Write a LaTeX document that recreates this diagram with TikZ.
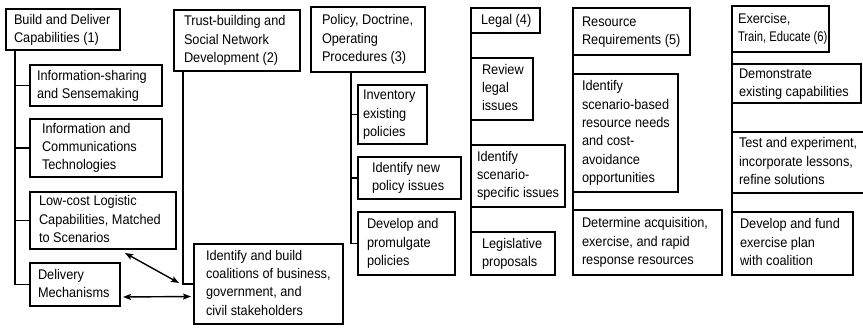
\documentclass[tikz,border=0pt]{standalone}
\usepackage{graphicx}
\usepackage{fontspec}
\setmainfont{Liberation Sans}
\usetikzlibrary{arrows.meta,calc}
\tikzset{
  box/.style={draw=black, line width=1.6pt, fill=white, inner ysep=0pt, outer sep=0pt,
    font=\fontsize{14}{18.3}\selectfont},
  conn/.style={draw=black, line width=1.5pt},
  dblarrow/.style={draw=black, line width=1.4pt, {Stealth[length=8pt,width=6pt,inset=1.5pt]}-{Stealth[length=8pt,width=6pt,inset=1.5pt]}}
}
\newcommand\bx[7]{%
  \pgfmathsetmacro\bxw{#4-#2}%
  \pgfmathsetmacro\bxh{#5-#3}%
  \pgfmathsetmacro\bxt{#4-#2-2*#6}%
  \pgfmathsetmacro\bxcx{(#2+#4)/2}%
  \pgfmathsetmacro\bxcy{(#3+#5)/2}%
  \node[box, minimum width=\bxw pt, minimum height=\bxh pt, inner xsep=#6pt] (#1) at (\bxcx,\bxcy)
    {\makebox[\bxt pt][l]{\scalebox{0.91}[1]{\begin{tabular}{@{}l@{}}#7\end{tabular}}}};%
}
\newcommand\narrowline[1]{\scalebox{0.88}[1]{#1}}
\begin{document}
\begin{tikzpicture}[x=1pt,y=-1pt]
\clip (0,0) rectangle (863,327);
\useasboundingbox (0,0) rectangle (863,327);
% column 1
\bx{b1}{6}{9}{120}{50}{8}{Build and Deliver\\Capabilities (1)}
\bx{c11}{30}{65}{162}{106}{7}{Information-sharing\\and Sensemaking}
\bx{c12}{30}{119}{162}{177}{12}{Information and\\Communications\\Technologies}
\bx{c13}{30}{192}{176}{249}{9}{Low-cost Logistic\\Capabilities, Matched\\to Scenarios}
\bx{c14}{30}{263}{120}{306}{8}{Delivery\\Mechanisms}
% column 2
\bx{b2}{174}{10}{300}{71}{10}{Trust-building and\\Social Network\\Development (2)}
\bx{co}{194}{244}{343}{324}{12}{Identify and build\\coalitions of business,\\government, and\\civil stakeholders}
% column 3
\bx{b3}{311}{7}{425}{72}{11}{Policy, Doctrine,\\Operating\\Procedures (3)}
\bx{c31}{358}{85}{427}{144}{5}{Inventory\\existing\\policies}
\bx{c32}{358}{157}{461}{199}{14}{Identify new\\policy issues}
\bx{c33}{358}{212}{455}{275}{9}{Develop and\\promulgate\\policies}
% column 4
\bx{l0}{471}{8}{540}{33}{10}{Legal (4)}
\bx{l1}{471}{58}{533}{120}{11}{Review\\legal\\issues}
\bx{l2}{471}{145}{565}{207}{6}{Identify\\scenario-\\specific issues}
\bx{l3}{471}{232}{555}{275}{11}{Legislative\\proposals}
% column 5
\bx{r0}{573}{8}{690}{55}{9}{Resource\\Requirements (5)}
\bx{r1}{573}{74}{678}{192}{9}{Identify\\scenario-based\\resource needs\\and cost-\\avoidance\\opportunities}
\bx{r2}{573}{210}{722}{275}{9}{Determine acquisition,\\exercise, and rapid\\response resources}
% column 6
\bx{e0}{732}{6}{829}{52}{6}{Exercise,\\\narrowline{Train, Educate (6)}}
\bx{e1}{732}{64}{861}{103}{7}{Demonstrate\\existing capabilities}
\bx{e2}{732}{132}{868}{193}{7}{Test and experiment,\\incorporate lessons,\\refine solutions}
\bx{e3}{732}{212}{853}{275}{8}{Develop and fund\\exercise plan\\with coalition}
% connectors
\draw[conn] ([xshift=9pt]b1.south west) |- (c11.west);
\draw[conn] ([xshift=9pt]b1.south west) |- (c12.west);
\draw[conn] ([xshift=9pt]b1.south west) |- (c13.west);
\draw[conn] ([xshift=9pt]b1.south west) |- (c14.west);
\draw[conn] ([xshift=9pt]b2.south west) |- (co.west);
\draw[conn] ([xshift=40pt]b3.south west) |- (c31.west);
\draw[conn] ([xshift=40pt]b3.south west) |- (c32.west);
\draw[conn] ([xshift=40pt]b3.south west) |- (c33.west);
\draw[conn] (l0.south west) -- (l1.north west);
\draw[conn] (l1.south west) -- (l2.north west);
\draw[conn] (l2.south west) -- (l3.north west);
\draw[conn] (r0.south west) -- (r1.north west);
\draw[conn] (r1.south west) -- (r2.north west);
\draw[conn] (e0.south west) -- (e1.north west);
\draw[conn] (e1.south west) -- (e2.north west);
\draw[conn] (e2.south west) -- (e3.north west);
% arrows
\coordinate (a1s) at ($(c13.south east)+(-51,4)$);
\coordinate (a1e) at ($(co.west)+(-15,-1)$);
\draw[dblarrow] (a1s) -- (a1e);
\draw[dblarrow] ($(c14.east)+(3,12.5)$) -- ($(co.west)+(-3,12.5)$);
\end{tikzpicture}
\end{document}
